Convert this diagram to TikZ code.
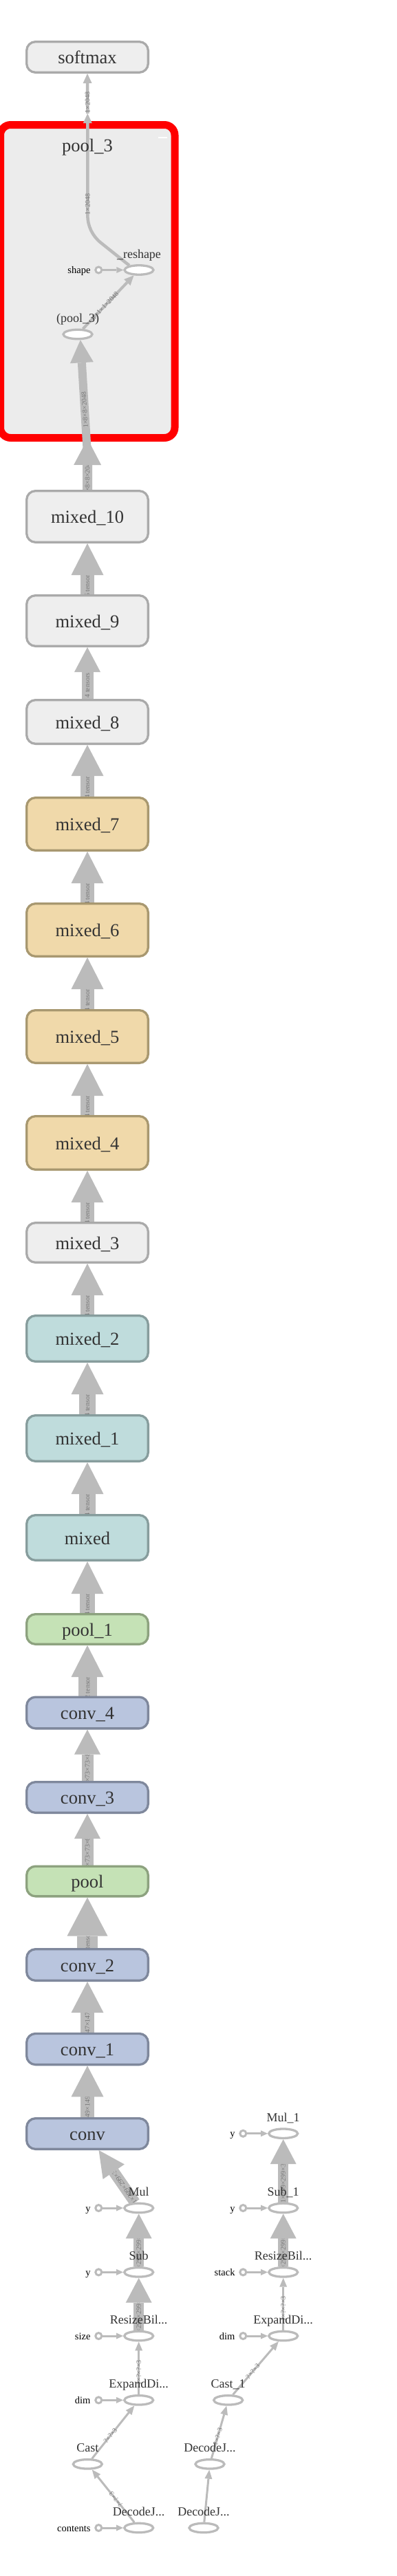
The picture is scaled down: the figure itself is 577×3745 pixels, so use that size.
\documentclass[tikz,border=0pt]{standalone}
\usepackage{fontspec}
\setmainfont{Liberation Serif}
\usetikzlibrary{calc,shapes.geometric}
\pgfdeclarelayer{bg}
\pgfdeclarelayer{edges}
\pgfsetlayers{bg,edges,main}
\definecolor{grayf}{HTML}{EEEEEE}
\definecolor{grays}{HTML}{AAAAAA}
\definecolor{tanf}{HTML}{F0D9AA}
\definecolor{tans}{HTML}{A89870}
\definecolor{tealf}{HTML}{BFDCDC}
\definecolor{teals}{HTML}{879D9D}
\definecolor{greenf}{HTML}{C5E2B6}
\definecolor{greens}{HTML}{8DA27F}
\definecolor{bluef}{HTML}{B9C5DE}
\definecolor{blues}{HTML}{7F889C}
\definecolor{txt}{HTML}{333333}
\definecolor{edgec}{HTML}{BBBBBB}
\definecolor{labc}{HTML}{777777}
\definecolor{p3f}{HTML}{ECECEC}
% #1 source, #2 target, #3 shaft width, #4 half head width, #5 head length, #6 label, #7 label options
\newcommand{\tbedge}[7]{%
  \path (#2) -- (#1) coordinate[pos=0] (tbtip) coordinate[pos=1] (tbsrc);
  \coordinate (tbbase) at ($(tbtip)!#5pt!(tbsrc)$);
  \draw[edgeline, line width=#3pt] (tbsrc) -- (tbbase)
     node[elabel, pos=0.5, sloped, allow upside down, #7] {#6};
  \fill[edgefill] (tbtip) -- ($(tbbase)!#4pt!90:(tbtip)$) -- ($(tbbase)!#4pt!-90:(tbtip)$) -- cycle;
}
\begin{document}
\begin{tikzpicture}[x=1pt,y=-1pt,
  edgeline/.style={draw=edgec},
  edgefill/.style={fill=edgec},
  elabel/.style={font=\fontsize{10}{10}\selectfont, text=labc, inner sep=0pt},
  tbbox/.style={rectangle, rounded corners=13pt, line width=3.3pt, minimum width=176.7pt,
    inner sep=0pt, font=\fontsize{26.5}{30}\selectfont, text=txt, text height=21pt, text depth=1.5pt},
  boxgray/.style={tbbox, fill=grayf, draw=grays},
  boxtan/.style={tbbox, fill=tanf, draw=tans},
  boxteal/.style={tbbox, fill=tealf, draw=teals},
  boxgreen/.style={tbbox, fill=greenf, draw=greens},
  boxblue/.style={tbbox, fill=bluef, draw=blues},
  opnode/.style={ellipse, draw=edgec, line width=3.3pt, fill=white, minimum width=42pt, minimum height=13.5pt, inner sep=0pt},
  incircle/.style={circle, draw=edgec, line width=3pt, fill=white, minimum size=9pt, inner sep=0pt},
  oplab/.style={font=\fontsize{18}{18}\selectfont, text=txt, anchor=base, inner sep=0pt},
  inlab/.style={font=\fontsize{14.5}{14.5}\selectfont, text=black, anchor=base east, inner sep=0pt}
]
\useasboundingbox (0,0) rectangle (577,3745);
\begin{pgfonlayer}{bg}
\fill[white] (0,0) rectangle (577,3745);
\node[draw=red, line width=11pt, rounded corners=15pt, fill=p3f, minimum width=253.5pt,
  minimum height=455pt, inner sep=0pt] (p3) at (127.25,409) {};
\end{pgfonlayer}
\draw[white, line width=2pt] (230,199.5) -- (243,199.5);
\node[font=\fontsize{26.5}{30}\selectfont, text=txt, anchor=base, inner sep=0pt] (p3lab) at (127,220) {pool\_3};

% main chain
\node[boxgray, minimum height=44.7pt] (sm) at (127,83) {softmax};
\node[boxgray, minimum height=74.7pt] (m10) at (127,751) {mixed\_10};
\node[boxgray, minimum height=73.7pt] (m9) at (127,902.5) {mixed\_9};
\node[boxgray, minimum height=63.7pt] (m8) at (127,1049.5) {mixed\_8};
\node[boxtan, minimum height=76.7pt] (m7) at (127,1198) {mixed\_7};
\node[boxtan, minimum height=76.7pt] (m6) at (127,1352) {mixed\_6};
\node[boxtan, minimum height=76.7pt] (m5) at (127,1507) {mixed\_5};
\node[boxtan, minimum height=77.7pt] (m4) at (127,1661.5) {mixed\_4};
\node[boxgray, minimum height=57.7pt] (m3) at (127,1806.5) {mixed\_3};
\node[boxteal, minimum height=66.7pt] (m2) at (127,1946) {mixed\_2};
\node[boxteal, minimum height=66.7pt] (m1) at (127,2091) {mixed\_1};
\node[boxteal, minimum height=65.7pt] (m0) at (127,2235.5) {mixed};
\node[boxgreen, minimum height=43.7pt] (p1) at (127,2368.5) {pool\_1};
\node[boxblue, minimum height=45.7pt] (c4) at (127,2490) {conv\_4};
\node[boxblue, minimum height=44.7pt] (c3) at (127,2613) {conv\_3};
\node[boxgreen, minimum height=43.7pt] (pl) at (127,2735) {pool};
\node[boxblue, minimum height=45.7pt] (c2) at (127,2856.5) {conv\_2};
\node[boxblue, minimum height=45.2pt] (c1) at (127,2979) {conv\_1};
\node[boxblue, minimum height=44.7pt] (c0) at (127,3102) {conv};

% pool_3 internals
\coordinate (p3top) at (127.3,165);
\coordinate (p3bot) at (127.3,638);
\coordinate (p3in) at (127.3,665);
\node[opnode] (pl3) at (113,486) {};
\node[oplab] (pl3lab) at (113,468) {(pool\_3)};
\node[opnode] (rs) at (202,392.5) {};
\node[oplab] (rslab) at (202,375.5) {\_reshape};
\node[incircle] (shc) at (143.3,392.5) {};
\node[inlab] (shlab) at (131.7,397.5) {shape};

% bottom left
\node[opnode] (mul) at (201.7,3210) {};
\node[opnode] (sub) at (201.7,3303.3) {};
\node[opnode] (rzl) at (201.7,3396) {};
\node[opnode] (edl) at (201.7,3489.3) {};
\node[opnode] (cast) at (127.3,3582.3) {};
\node[opnode] (djl) at (201.7,3675) {};
\node[oplab] (mullab) at (201.7,3192.5) {Mul};
\node[oplab] (sublab) at (201.7,3285.8) {Sub};
\node[oplab] (rzllab) at (201.7,3378.5) {ResizeBil...};
\node[oplab] (edllab) at (201.7,3471.8) {ExpandDi...};
\node[oplab] (castlab) at (127.3,3564.8) {Cast};
\node[oplab] (djllab) at (201.7,3657.5) {DecodeJ...};
\node[incircle] (iy1) at (143.3,3210) {};
\node[incircle] (iy2) at (143.3,3303.3) {};
\node[incircle] (isize) at (143.3,3396) {};
\node[incircle] (idim) at (143.3,3489.3) {};
\node[incircle] (icont) at (143.3,3675) {};
\node[inlab] (ly1) at (131.7,3215) {y};
\node[inlab] (ly2) at (131.7,3308.3) {y};
\node[inlab] (lsize) at (131.7,3401) {size};
\node[inlab] (ldim) at (131.7,3494.3) {dim};
\node[inlab] (lcont) at (131.7,3680) {contents};

% bottom right
\node[opnode] (mul1) at (411.7,3101.7) {};
\node[opnode] (sub1) at (411.7,3210) {};
\node[opnode] (rzr) at (411.7,3303.3) {};
\node[opnode] (edr) at (411.7,3396) {};
\node[opnode] (cast1) at (331.7,3489.3) {};
\node[opnode] (djr1) at (305,3582.3) {};
\node[opnode] (djr2) at (296,3675) {};
\node[oplab] (mul1lab) at (411.7,3084.2) {Mul\_1};
\node[oplab] (sub1lab) at (411.7,3192.5) {Sub\_1};
\node[oplab] (rzrlab) at (411.7,3285.8) {ResizeBil...};
\node[oplab] (edrlab) at (411.7,3378.5) {ExpandDi...};
\node[oplab] (cast1lab) at (331.7,3471.8) {Cast\_1};
\node[oplab] (djr1lab) at (305,3564.8) {DecodeJ...};
\node[oplab] (djr2lab) at (296,3657.5) {DecodeJ...};
\node[incircle] (ry1) at (353.3,3101.7) {};
\node[incircle] (ry2) at (353.3,3210) {};
\node[incircle] (rstack) at (353.3,3303.3) {};
\node[incircle] (rdim) at (353.3,3396) {};
\node[inlab] (lry1) at (341.7,3106.7) {y};
\node[inlab] (lry2) at (341.7,3215) {y};
\node[inlab] (lrstack) at (341.7,3308.3) {stack};
\node[inlab] (lrdim) at (341.7,3401) {dim};

\begin{pgfonlayer}{edges}
% main chain
\tbedge{c0.north}{c1.south}{20}{23.5}{45}{1×149×149×32}{}
\tbedge{c1.north}{c2.south}{20}{23.5}{45}{1×147×147×32}{}
\tbedge{c2.north}{pl.south}{30}{29.5}{56}{2 tensors}{}
\tbedge{pl.north}{c3.south}{17}{19}{36}{1×73×73×64}{}
\tbedge{c3.north}{c4.south}{17}{19}{36}{1×73×73×80}{}
\tbedge{c4.north}{p1.south}{27}{23.5}{46}{2 tensors}{}
\tbedge{p1.north}{m0.south}{22}{23.5}{47}{4 tensors}{}
\tbedge{m0.north}{m1.south}{24}{23.5}{46}{4 tensors}{}
\tbedge{m1.north}{m2.south}{24}{23.5}{46}{4 tensors}{}
\tbedge{m2.north}{m3.south}{20}{23.5}{46}{4 tensors}{}
\tbedge{m3.north}{m4.south}{20}{23.5}{46}{4 tensors}{}
\tbedge{m4.north}{m5.south}{20}{23.5}{46}{4 tensors}{}
\tbedge{m5.north}{m6.south}{20}{23.5}{46}{4 tensors}{}
\tbedge{m6.north}{m7.south}{20}{23.5}{46}{4 tensors}{}
\tbedge{m7.north}{m8.south}{20}{23.5}{45}{4 tensors}{}
\tbedge{m8.north}{m9.south}{17}{19}{36}{4 tensors}{}
\tbedge{m9.north}{m10.south}{20}{23.5}{46}{5 tensors}{}
\tbedge{m10.north}{p3bot}{14}{20}{38}{1×8×8×2048}{}
\tbedge{p3in}{pl3.-65}{12}{17}{33}{1×8×8×2048}{}
\tbedge{pl3}{rs}{4}{6.5}{14}{1×1×1×2048}{}
\tbedge{shc}{rs}{3}{4.5}{10}{}{}
\draw[edgeline, line width=4.5pt] (rs.155) -- (146.7,353) .. controls (134.1,343.1) and (127.3,328) .. (127.3,313) -- ($(p3top)+(0,14)$);
\node[elabel, rotate=90] (lbin) at (127.3,297) {1×2048};
\fill[edgefill] (p3top) -- ++(-6.5,14) -- ++(13,0) -- cycle;
\tbedge{p3top}{sm.south}{4.5}{6.5}{14}{1×2048}{pos=0.37}
% bottom left
\tbedge{iy1}{mul}{3}{4.5}{10}{}{}
\tbedge{iy2}{sub}{3}{4.5}{10}{}{}
\tbedge{isize}{rzl}{3}{4.5}{10}{}{}
\tbedge{idim}{edl}{3}{4.5}{10}{}{}
\tbedge{icont}{djl}{3}{4.5}{10}{}{}
\tbedge{djl}{cast}{3}{5.5}{13}{?×?×3}{}
\tbedge{cast}{edl}{3}{5.5}{13}{?×?×3}{}
\tbedge{edl}{rzl}{3}{5.5}{13}{1×?×?×3}{}
\tbedge{rzl}{sub}{15}{19}{36}{1×299×299×3}{}
\tbedge{sub}{mul}{15}{19}{36}{1×299×299×3}{}
\tbedge{mul}{c0}{16}{19}{38}{1×299×299×3}{}
% bottom right
\tbedge{ry1}{mul1}{3}{4.5}{10}{}{}
\tbedge{ry2}{sub1}{3}{4.5}{10}{}{}
\tbedge{rstack}{rzr}{3}{4.5}{10}{}{}
\tbedge{rdim}{edr}{3}{4.5}{10}{}{}
\tbedge{djr2}{djr1}{3}{5.5}{13}{}{}
\tbedge{djr1}{cast1}{3}{5.5}{13}{?×?×3}{}
\tbedge{cast1}{edr}{3}{5.5}{13}{?×?×3}{}
\tbedge{edr}{rzr}{3}{5.5}{13}{1×?×?×3}{}
\tbedge{rzr}{sub1}{15}{19}{36}{1×299×299×3}{}
\tbedge{sub1}{mul1}{15}{19}{36}{1×299×299×3}{}
\end{pgfonlayer}
\end{tikzpicture}
\end{document}
